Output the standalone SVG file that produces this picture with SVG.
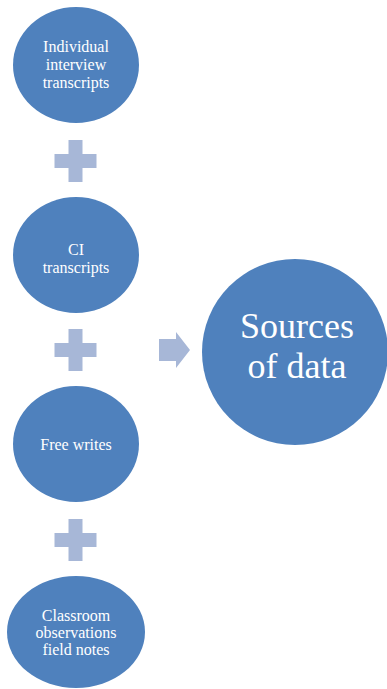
<svg xmlns="http://www.w3.org/2000/svg" width="387" height="689" viewBox="0 0 387 689">
<style>
.node{fill:#4F81BD}
.op{fill:#A7B7D7}
text{font-family:"Liberation Serif","Times New Roman",Times,"DejaVu Serif",serif;fill:#FFFFFF;text-anchor:middle}
.t{font-size:16px}
.big{font-size:36px}
</style>
<defs>
<path id="plus" d="M-7,-21 H7 V-7 H21 V7 H7 V21 H-7 V7 H-21 V-7 H-7 Z"/>
</defs>
<rect width="387" height="689" fill="#FFFFFF"/>
<g id="connectors">
<use href="#plus" class="op" transform="translate(75.5,161)"/>
<use href="#plus" class="op" transform="translate(75.5,350)"/>
<use href="#plus" class="op" transform="translate(75.5,540)"/>
<path class="op" d="M159,339 H176 V332 L190,350 L176,368 V361 H159 Z"/>
</g>
<g id="n1">
<ellipse class="node" cx="76" cy="65" rx="63" ry="58"/>
<text class="t" font-family="Liberation Serif, serif" x="76" y="52">Individual</text>
<text class="t" font-family="Liberation Serif, serif" x="76" y="70">interview</text>
<text class="t" font-family="Liberation Serif, serif" x="76" y="88">transcripts</text>
</g>
<g id="n2">
<ellipse class="node" cx="76" cy="255" rx="63" ry="58"/>
<text class="t" font-family="Liberation Serif, serif" x="76" y="255">CI</text>
<text class="t" font-family="Liberation Serif, serif" x="76" y="273">transcripts</text>
</g>
<g id="n3">
<ellipse class="node" cx="76" cy="444" rx="63" ry="58"/>
<text class="t" font-family="Liberation Serif, serif" x="76" y="450">Free writes</text>
</g>
<g id="n4">
<ellipse class="node" cx="76" cy="632" rx="69" ry="56"/>
<text class="t" font-family="Liberation Serif, serif" x="76" y="621">Classroom</text>
<text class="t" font-family="Liberation Serif, serif" x="76" y="638">observations</text>
<text class="t" font-family="Liberation Serif, serif" x="76" y="655">field notes</text>
</g>
<g id="n5">
<circle class="node" cx="295" cy="352" r="93"/>
<text class="big" font-family="Liberation Serif, serif" x="297" y="338">Sources</text>
<text class="big" font-family="Liberation Serif, serif" x="297" y="378">of data</text>
</g>
</svg>
